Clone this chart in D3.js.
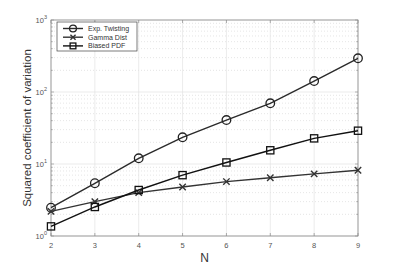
<!DOCTYPE html>
<html>
<head>
<meta charset="utf-8">
<script src="https://cdn.jsdelivr.net/npm/d3@7"></script>
<style>
body { margin: 0; background: #fff; }
text { font-family: "Liberation Sans", Arial, sans-serif; }
</style>
</head>
<body>
<div id="chart"></div>
<script>
// data
var nValues = [2, 3, 4, 5, 6, 7, 8, 9];
var expTwisting = [2.47, 5.4, 12, 23.5, 40.8, 69.7, 142, 294];
var gammaDist = [2.2, 3.0, 4.0, 4.8, 5.7, 6.45, 7.3, 8.2];
var biasedPdf = [1.36, 2.53, 4.35, 7.0, 10.5, 15.5, 22.7, 29];
var seriesNames = ["Exp. Twisting", "Gamma Dist", "Biased PDF"];
var yTickExps = [0, 1, 2, 3];

var svgWidth = 397, svgHeight = 266;
var margin = {top: 20, right: 39, bottom: 30, left: 51};
var chartWidth = svgWidth - margin.left - margin.right;
var chartHeight = svgHeight - margin.top - margin.bottom;

var svg = d3.select("#chart").append("svg")
  .attr("width", svgWidth)
  .attr("height", svgHeight);
var chart = svg.append("g")
  .attr("transform", "translate(" + margin.left + "," + margin.top + ")");

var x = d3.scaleLinear().domain([2, 9]).range([0, chartWidth]);
var y = d3.scaleLog().domain([1, 1000]).range([chartHeight, 0]);

// minor grid (dotted)
var minor = [];
[1, 10, 100].forEach(function(d) {
  for (var k = 2; k <= 9; k++) minor.push(d * k);
});
chart.append("g").selectAll("line").data(minor).enter().append("line")
  .attr("x1", 0).attr("x2", chartWidth)
  .attr("y1", function(d) { return y(d); }).attr("y2", function(d) { return y(d); })
  .attr("stroke", "#d4d4d4").attr("stroke-width", 0.6)
  .attr("stroke-dasharray", "1,2");

// major grid
chart.append("g").selectAll("line").data(nValues).enter().append("line")
  .attr("x1", function(d) { return x(d); }).attr("x2", function(d) { return x(d); })
  .attr("y1", 0).attr("y2", chartHeight)
  .attr("stroke", "#e3e3e3").attr("stroke-width", 0.7);
chart.append("g").selectAll("line").data(yTickExps).enter().append("line")
  .attr("x1", 0).attr("x2", chartWidth)
  .attr("y1", function(d) { return y(Math.pow(10, d)); })
  .attr("y2", function(d) { return y(Math.pow(10, d)); })
  .attr("stroke", "#e3e3e3").attr("stroke-width", 0.7);

// box
chart.append("rect")
  .attr("width", chartWidth).attr("height", chartHeight)
  .attr("fill", "none").attr("stroke", "#8a8a8a").attr("stroke-width", 0.8);

// ticks
var xTicks = chart.append("g");
nValues.forEach(function(d) {
  xTicks.append("line").attr("x1", x(d)).attr("x2", x(d))
    .attr("y1", chartHeight).attr("y2", chartHeight - 3).attr("stroke", "#8a8a8a").attr("stroke-width", 0.7);
  xTicks.append("line").attr("x1", x(d)).attr("x2", x(d))
    .attr("y1", 0).attr("y2", 3).attr("stroke", "#8a8a8a").attr("stroke-width", 0.7);
  xTicks.append("text").attr("x", x(d)).attr("y", chartHeight + 12)
    .attr("text-anchor", "middle").attr("font-size", 7.5).attr("fill", "#555")
    .text(d);
});
var yTicks = chart.append("g");
minor.concat(yTickExps.map(function(e) { return Math.pow(10, e); })).forEach(function(d) {
  var len = (Math.log10(d) % 1 === 0) ? 3 : 1.8;
  yTicks.append("line").attr("x1", 0).attr("x2", len)
    .attr("y1", y(d)).attr("y2", y(d)).attr("stroke", "#8a8a8a").attr("stroke-width", 0.6);
  yTicks.append("line").attr("x1", chartWidth).attr("x2", chartWidth - len)
    .attr("y1", y(d)).attr("y2", y(d)).attr("stroke", "#8a8a8a").attr("stroke-width", 0.6);
});
yTickExps.forEach(function(e) {
  var t = yTicks.append("text").attr("x", -4).attr("y", y(Math.pow(10, e)) + 3)
    .attr("text-anchor", "end").attr("font-size", 7.5).attr("fill", "#555");
  t.append("tspan").text("10");
  t.append("tspan").attr("dy", -4).attr("font-size", 5.5).text(e);
});

// axis labels
svg.append("text")
  .attr("x", margin.left + chartWidth / 2).attr("y", 262)
  .attr("text-anchor", "middle").attr("font-size", 12).attr("fill", "#333")
  .text("N");
svg.append("text")
  .attr("transform", "translate(31," + (margin.top + chartHeight / 2) + ") rotate(-90)")
  .attr("text-anchor", "middle").attr("font-size", 11.5).attr("fill", "#333")
  .text("Squared coefficient of variation");

// series
var allSeries = [expTwisting, gammaDist, biasedPdf];
var markerTypes = ["circle", "cross", "square"];
var line = d3.line()
  .x(function(d, i) { return x(nValues[i]); })
  .y(function(d) { return y(d); });

function drawMarker(g, type, cx, cy, scale) {
  if (type === "circle") {
    g.append("circle").attr("cx", cx).attr("cy", cy).attr("r", 4.3 * scale)
      .attr("fill", "none").attr("stroke", "#222").attr("stroke-width", 1.3);
  } else if (type === "square") {
    var s = 3.6 * scale;
    g.append("rect").attr("x", cx - s).attr("y", cy - s).attr("width", 2 * s).attr("height", 2 * s)
      .attr("fill", "none").attr("stroke", "#111").attr("stroke-width", 1.3);
  } else {
    var c = 3.2 * scale;
    g.append("path")
      .attr("d", "M" + (cx - c) + "," + (cy - c) + "L" + (cx + c) + "," + (cy + c) +
        "M" + (cx - c) + "," + (cy + c) + "L" + (cx + c) + "," + (cy - c))
      .attr("stroke", "#333").attr("stroke-width", 1.4);
  }
}

var lineColors = ["#2a2a2a", "#333", "#111"];
allSeries.forEach(function(vals, s) {
  var g = chart.append("g");
  g.append("path").datum(vals).attr("d", line)
    .attr("fill", "none").attr("stroke", lineColors[s]).attr("stroke-width", 1.4);
  vals.forEach(function(v, i) {
    drawMarker(g, markerTypes[s], x(nValues[i]), y(v), 1);
  });
});

// legend
var legend = svg.append("g").attr("transform", "translate(57,22)");
legend.append("rect").attr("width", 80).attr("height", 29)
  .attr("fill", "#fff").attr("stroke", "#444").attr("stroke-width", 0.7);
seriesNames.forEach(function(name, i) {
  var ly = 6.5 + i * 8.7;
  legend.append("line").attr("x1", 6).attr("x2", 26).attr("y1", ly).attr("y2", ly)
    .attr("stroke", lineColors[i]).attr("stroke-width", 1.4);
  drawMarker(legend, markerTypes[i], 16, ly, 0.8);
  legend.append("text").attr("x", 31).attr("y", ly + 2.5)
    .attr("font-size", 7).attr("fill", "#333").text(name);
});
</script>
</body>
</html>
